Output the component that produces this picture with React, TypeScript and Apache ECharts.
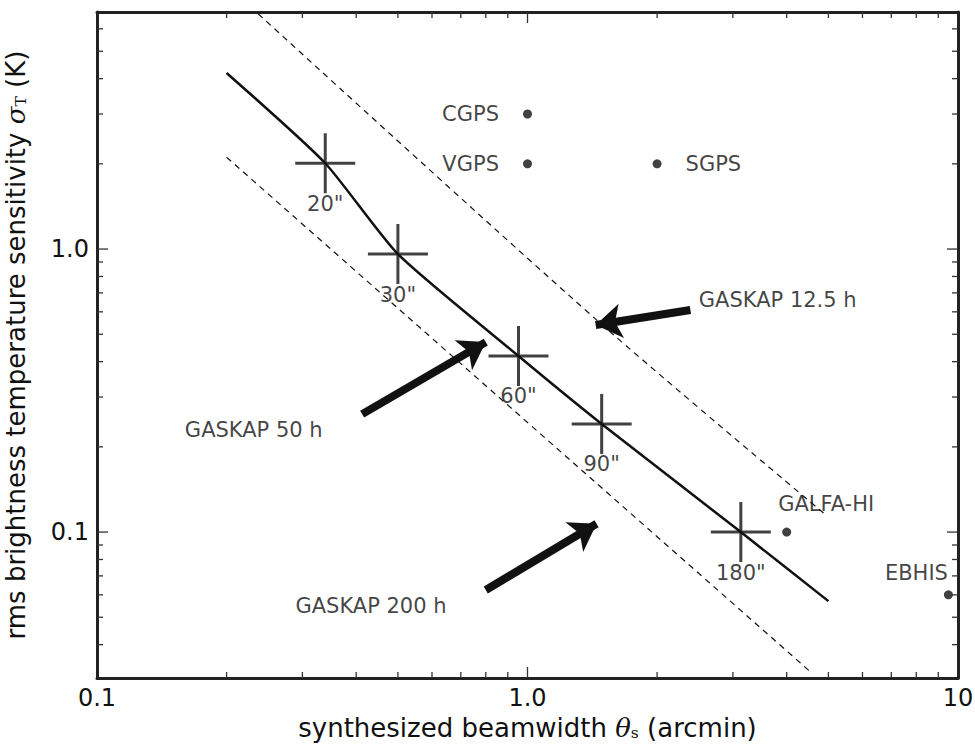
import * as echarts from "echarts";
import { useEffect, useRef } from "react";

// solid sensitivity curve (GASKAP 50 h)
const curve: [number, number][] = [
  [0.2, 4.19],
  [0.339, 2.01],
  [0.5, 0.96],
  [0.953, 0.419],
  [1.487, 0.241],
  [3.13, 0.1],
  [5.0, 0.057],
];
const crosses: [number, number, string][] = [
  [0.339, 2.01, '20"'],
  [0.5, 0.96, '30"'],
  [0.953, 0.419, '60"'],
  [1.487, 0.241, '90"'],
  [3.13, 0.1, '180"'],
];
const dashedUpper: [number, number][] = [
  [0.237, 6.77],
  [1.47, 0.55],
  [4.93, 0.115],
];
const dashedLower: [number, number][] = [
  [0.2, 2.11],
  [4.55, 0.032],
];
const surveys: [number, number, string, string][] = [
  [1, 3.0, "CGPS", "left"],
  [1, 2.0, "VGPS", "left"],
  [2, 2.0, "SGPS", "right"],
  [4, 0.1, "GALFA-HI", "topRight"],
  [9.5, 0.06, "EBHIS", "topLeft"],
];
const arrows: [number, number, number, number][] = [
  [2.39, 0.609, 1.44, 0.539],
  [0.413, 0.261, 0.8, 0.469],
  [0.8, 0.0624, 1.447, 0.107],
];
const notes: [number, number, string][] = [
  [2.5, 0.66, "GASKAP 12.5 h"],
  [0.16, 0.229, "GASKAP 50 h"],
  [0.289, 0.0548, "GASKAP 200 h"],
];
const X_MIN = 0.1;
const X_MAX = 10;
const Y_MIN = 0.0305;
const Y_MAX = 6.88;
const xMajor = [0.1, 1, 10];
const xMinor = [0.2, 0.3, 0.4, 0.5, 0.6, 0.7, 0.8, 0.9, 2, 3, 4, 5, 6, 7, 8, 9];
const yMajor = [0.1, 1];
const yMinor = [0.04, 0.05, 0.06, 0.07, 0.08, 0.09, 0.2, 0.3, 0.4, 0.5, 0.6, 0.7, 0.8, 0.9, 2, 3, 4, 5, 6];

const FONT = "DejaVu Sans";
const fmt = (v: number) => (v === 1 ? "1.0" : v === 10 ? "10" : String(v));

// tick segments just inside the frame; one line series per segment
function tickSegments(): [number, number][][] {
  const out: [number, number][][] = [];
  const add = (major: boolean) => {
    const len = major ? 11 : 6;
    const fy = Math.pow(10, len / 283);
    const fx = Math.pow(10, len / 430);
    (major ? xMajor : xMinor)
      .filter((v) => v > X_MIN && v < X_MAX)
      .forEach((v) => {
        out.push([[v, Y_MIN], [v, Y_MIN * fy]]);
        out.push([[v, Y_MAX], [v, Y_MAX / fy]]);
      });
    (major ? yMajor : yMinor).forEach((v) => {
      out.push([[X_MIN, v], [X_MIN * fx, v]]);
      out.push([[X_MAX, v], [X_MAX / fx, v]]);
    });
  };
  add(true);
  add(false);
  return out;
}

export default function App() {
  const ref = useRef<HTMLDivElement>(null);

  useEffect(() => {
    document.body.style.margin = "0";
    if (!ref.current) return;
    const chart = echarts.init(ref.current, null, { renderer: "svg" });
    const axBase = (type: "x" | "y", pos: string, labels: boolean) => ({
      type: "log",
      logBase: 10,
      position: pos,
      min: type === "x" ? X_MIN : Y_MIN,
      max: type === "x" ? X_MAX : Y_MAX,
      axisLine: { show: true, lineStyle: { color: "#222", width: 3 } },
      axisTick: { show: false },
      axisLabel: {
        show: labels,
        fontFamily: FONT,
        fontSize: 24,
        color: "#111",
        margin: 8,
        formatter: fmt,
        customValues: type === "x" ? xMajor : yMajor,
      },
      splitLine: { show: false },
    });
    const nameStyle = (size: number) => ({
      fontFamily: FONT,
      fontSize: size,
      color: "#111",
      rich: {
        i: { fontFamily: "DejaVu Serif", fontStyle: "italic", fontSize: size },
        s: { fontFamily: "DejaVu Serif", fontSize: size * 0.6, padding: [10, 0, 0, 0] },
      },
    });
    const label = {
      show: true,
      formatter: (p: any) => p.name,
      fontFamily: FONT,
      fontSize: 21,
      color: "#111",
    };
    const ticks = tickSegments().map((seg) => ({
      type: "line",
      data: seg,
      showSymbol: false,
      clip: false,
      lineStyle: { color: "#333", width: 1.3 },
      z: 6,
    }));
    chart.setOption({
      animation: false,
      grid: { left: 97, right: 17, top: 12, bottom: 67, outerBoundsMode: "none" },
      xAxis: [
        {
          ...axBase("x", "bottom", true),
          name: "synthesized beamwidth {i|θ}{s|s} (arcmin)",
          nameLocation: "middle",
          nameGap: 34,
          nameTextStyle: nameStyle(26),
        },
        axBase("x", "top", false),
      ],
      yAxis: [
        {
          ...axBase("y", "left", true),
          name: "rms brightness temperature sensitivity {i|σ}{s|T} (K)",
          nameLocation: "middle",
          nameGap: 68,
          nameTextStyle: nameStyle(26),
        },
        axBase("y", "right", false),
      ],
      series: [
        {
          type: "line",
          data: curve,
          smooth: 0.2,
          showSymbol: false,
          lineStyle: { color: "#111", width: 2.5 },
        },
        {
          type: "line",
          data: dashedUpper,
          smooth: 0.3,
          showSymbol: false,
          lineStyle: { color: "#111", width: 1.2, type: [6, 5] },
        },
        {
          type: "line",
          data: dashedLower,
          showSymbol: false,
          lineStyle: { color: "#111", width: 1.2, type: [6, 5] },
        },
        {
          type: "scatter",
          data: crosses.map(([x, y, l]) => ({ value: [x, y], name: l })),
          symbol: "path://M28.5,0h3v60h-3z M0,28.5h60v3h-60z",
          symbolSize: [60, 60],
          itemStyle: { color: "#111" },
          label: { ...label, position: "bottom", distance: 0 },
          z: 5,
        },
        {
          type: "scatter",
          data: surveys.map(([x, y, l, pos]) => ({
            value: [x, y],
            name: l,
            label: {
              position: pos === "topRight" ? [-4, -34] : pos === "topLeft" ? [-59, -28] : pos,
              distance: 24,
            },
          })),
          symbolSize: 9,
          itemStyle: { color: "#111" },
          label,
        },
        {
          type: "lines",
          coordinateSystem: "cartesian2d",
          data: arrows.map(([x1, y1, x2, y2]) => ({ coords: [[x1, y1], [x2, y2]] })),
          symbol: ["none", "arrow"],
          symbolSize: 26,
          lineStyle: { color: "#111", width: 8, opacity: 1 },
          z: 4,
        },
        {
          type: "scatter",
          data: notes.map(([x, y, l]) => ({ value: [x, y], name: l })),
          symbolSize: 0,
          label: { ...label, position: "right", distance: 0 },
        },
        ...ticks,
      ],
    });
    return () => chart.dispose();
  }, []);

  return <div ref={ref} style={{ width: 975, height: 745 }} />;
}
